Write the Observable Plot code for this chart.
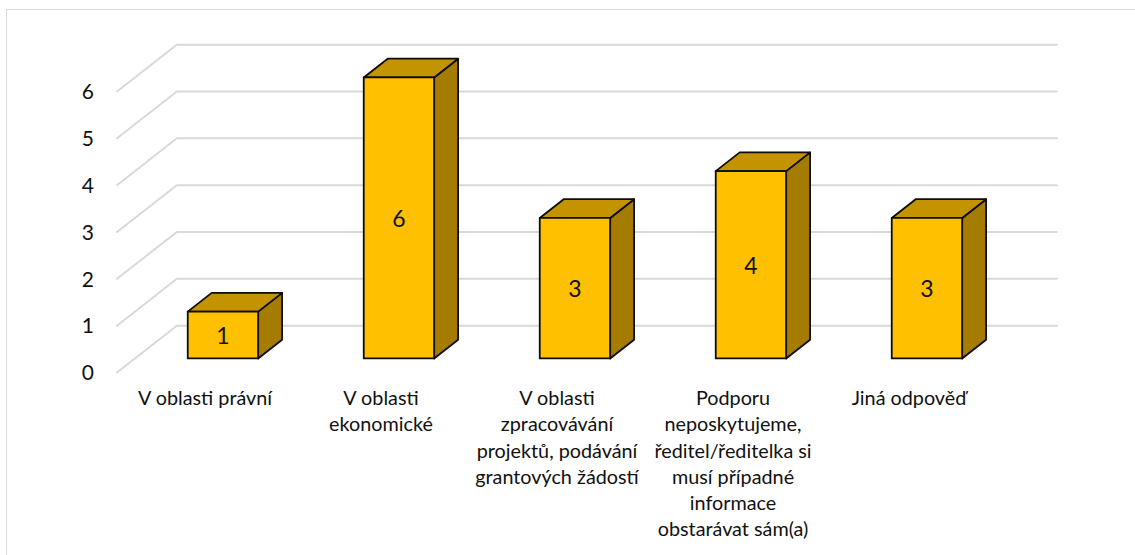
<!DOCTYPE html>
<html><head><meta charset="utf-8">
<script src="https://cdn.jsdelivr.net/npm/d3@7"></script>
<script src="https://cdn.jsdelivr.net/npm/@observablehq/plot@0.6"></script>
<style>
html,body{margin:0;padding:0;background:#fff;width:1135px;height:555px;overflow:hidden}
#frame{position:absolute;left:6px;top:9px;width:1135px;height:555px;border-left:1.5px solid #d9d9d9;border-top:1.5px solid #d9d9d9}
#chart{position:absolute;left:0;top:0}
svg{display:block;background:transparent!important}
</style></head><body>
<div id="frame"></div><div id="chart"></div>
<script>
const categories = ["V oblasti právní","V oblasti\nekonomické","V oblasti\nzpracovávání\nprojektů, podávání\ngrantových žádostí","Podporu\nneposkytujeme,\nředitel/ředitelka si\nmusí případné\ninformace\nobstarávat sám(a)","Jiná odpověď"];
const values = [1,6,3,4,3];
const levels = [0,1,2,3,4,5,6];

const slantX = 0.34, slantY = 1, halfW = 0.2, dFront = 0.3, dBack = 0.7;
const px = (c,d) => c + d*slantX;
const py = (v,d) => v + d*slantY;

const grid = levels.flatMap(v => [
  {v, x:px(0,0), y:py(v,0)}, {v, x:px(0,1), y:py(v,1)}, {v, x:px(categories.length,1), y:py(v,1)}
]);
const bars = values.map((v,i) => ({i, v, c:i+0.5}));
const poly = (pts) => bars.flatMap(b => pts(b).map(([x,y]) => ({i:b.i, x, y})));
const frontFace = poly(b => {const l=px(b.c-halfW,dFront), r=px(b.c+halfW,dFront), t=py(b.v,dFront), o=py(0,dFront);
  return [[l,o],[r,o],[r,t],[l,t],[l,o]];});
const topFace = poly(b => {
  return [[px(b.c-halfW,dFront),py(b.v,dFront)],[px(b.c+halfW,dFront),py(b.v,dFront)],[px(b.c+halfW,dBack),py(b.v,dBack)],[px(b.c-halfW,dBack),py(b.v,dBack)],[px(b.c-halfW,dFront),py(b.v,dFront)]];});
const sideFace = poly(b => {
  return [[px(b.c+halfW,dFront),py(0,dFront)],[px(b.c+halfW,dBack),py(0,dBack)],[px(b.c+halfW,dBack),py(b.v,dBack)],[px(b.c+halfW,dFront),py(b.v,dFront)],[px(b.c+halfW,dFront),py(0,dFront)]];});
const face = (data, fill) => Plot.line(data,{x:"x",y:"y",z:"i",fill,stroke:"#0d0d0d",strokeWidth:1.8,curve:"linear",strokeLinejoin:"round"});

const chart = Plot.plot({
  width:1135, height:555,
  marginLeft:116.5, marginRight:138.5, marginTop:91, marginBottom:183,
  style:{fontFamily:"Lato",background:"transparent"},
  x:{domain:[0,5],axis:null},
  y:{domain:[0,6],axis:null},
  marks:[
    Plot.axisY({ticks:levels,tickFormat:"d",tickSize:0,tickPadding:23,label:null,fontSize:21,color:"#111",anchor:"left",dy:1}),
    Plot.line(grid,{x:"x",y:"y",z:"v",stroke:"#d9d9d9",strokeWidth:2,curve:"linear"}),
    face(sideFace,"#a67c00"),
    face(topFace,"#c49300"),
    face(frontFace,"#ffc000"),
    Plot.text(bars,{x:d=>px(d.c,dFront),y:d=>py(d.v/2,dFront),text:d=>String(d.v),fontSize:23,dy:1.5,fill:"#111"}),
    Plot.text(categories,{x:(d,i)=>i+0.5,y:()=>-0.3,text:d=>d,lineAnchor:"top",lineHeight:1.325,fontSize:19.8,fill:"#111",textAnchor:"middle"})
  ]
});
document.getElementById("chart").append(chart);
</script></body></html>
